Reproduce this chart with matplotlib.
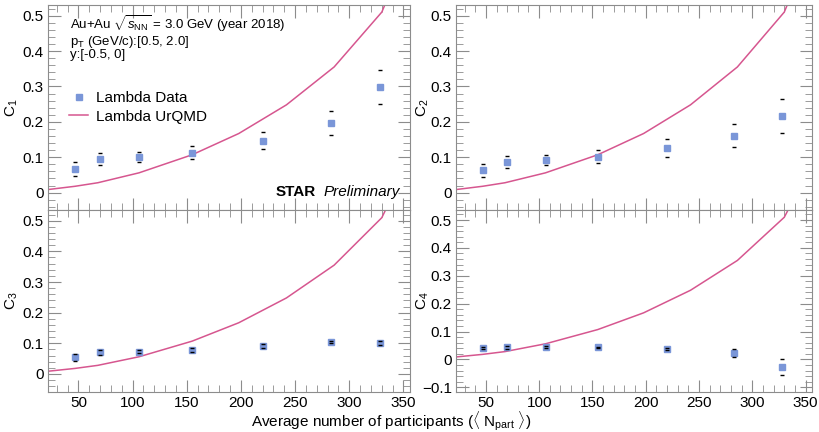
import matplotlib.pyplot as plt
from matplotlib.ticker import MultipleLocator, FuncFormatter

plt.rcParams['font.family'] = ['Liberation Sans', 'DejaVu Sans']
plt.rcParams['mathtext.fontset'] = 'custom'
plt.rcParams['mathtext.rm'] = 'Liberation Sans'
plt.rcParams['mathtext.it'] = 'Liberation Sans:italic'

npart = [47, 70, 106, 155, 220, 283, 328]

c1 = [0.067, 0.095, 0.101, 0.113, 0.147, 0.197, 0.299]
c1_err = [0.019, 0.016, 0.015, 0.018, 0.025, 0.033, 0.048]
c2 = [0.063, 0.087, 0.092, 0.102, 0.126, 0.161, 0.216]
c2_err = [0.019, 0.016, 0.015, 0.018, 0.025, 0.033, 0.048]
c3 = [0.054, 0.070, 0.073, 0.078, 0.091, 0.104, 0.100]
c3_err = [0.012, 0.007, 0.006, 0.006, 0.006, 0.004, 0.006]
c4 = [0.041, 0.043, 0.045, 0.043, 0.037, 0.024, -0.028]
c4_err = [0.005, 0.004, 0.004, 0.003, 0.005, 0.015, 0.028]

urqmd_npart = [20, 47, 68, 106, 155, 198, 242, 286, 330, 345]
urqmd_val = [0.008, 0.018, 0.028, 0.056, 0.107, 0.167, 0.248, 0.355, 0.51, 0.62]

data_color = '#7a96d8'
line_color = '#d6568f'
frame_color = '#8c8c8c'

fig = plt.figure(figsize=(8.19, 4.32), dpi=100)

W, H = 819, 432
def box(x0, x1, ytop, ybot):
    return [x0 / W, 1 - ybot / H, (x1 - x0) / W, (ybot - ytop) / H]

# rect, values, errors, y label, ylim, has x labels, ylabel x (pixels)
panels = [
    (box(48, 410, 5, 210), c1, c1_err, 'C$_1$', (-0.049, 0.53), False, 12),
    (box(456, 812, 5, 210), c2, c2_err, 'C$_2$', (-0.049, 0.53), False, 423),
    (box(48, 410, 210, 392), c3, c3_err, 'C$_3$', (-0.059, 0.535), True, 12),
    (box(456, 812, 210, 392), c4, c4_err, 'C$_4$', (-0.117, 0.536), True, 423),
]

def yfmt(v, pos):
    if abs(v) < 1e-9:
        return '0'
    return f'{v:.1f}'.replace('-', '\u2212')

axes = []
for rect, vals, errs, lab, ylim, bottom, lx in panels:
    ax = fig.add_axes(rect)
    ax.plot(urqmd_npart, urqmd_val, color=line_color, lw=1.1, zorder=2,
            label='Lambda UrQMD')
    ax.plot(npart, vals, 's', color=data_color, ms=5, mec=data_color, zorder=3,
            label='Lambda Data')
    up = [v + e for v, e in zip(vals, errs)]
    lo = [v - e for v, e in zip(vals, errs)]
    ax.plot(npart, up, '_', color='black', ms=3, mew=1, zorder=4)
    ax.plot(npart, lo, '_', color='black', ms=3, mew=1, zorder=4)
    ax.set_xlim(22, 356)
    ax.set_ylim(*ylim)
    ax.xaxis.set_major_locator(MultipleLocator(50))
    ax.xaxis.set_minor_locator(MultipleLocator(10))
    ax.yaxis.set_major_locator(MultipleLocator(0.1))
    ax.yaxis.set_minor_locator(MultipleLocator(0.02))
    ax.yaxis.set_major_formatter(FuncFormatter(yfmt))
    ax.tick_params(which='both', direction='in', top=True, right=True,
                   color=frame_color, labelsize=11, pad=3)
    ax.tick_params(which='major', length=9)
    ax.tick_params(which='minor', length=5)
    if not bottom:
        ax.tick_params(labelbottom=False)
    for s in ax.spines.values():
        s.set_color(frame_color)
    fig.text(lx / W, rect[1] + rect[3] / 2, lab, rotation=90, fontsize=11,
             ha='center', va='center')
    axes.append(ax)

ax1 = axes[0]
ax1.text(0.06, 0.91, 'Au+Au $\\sqrt{s_{\\rm NN}}$ = 3.0 GeV (year 2018)',
         transform=ax1.transAxes, fontsize=9.5, va='center')
ax1.text(0.06, 0.818, 'p$_{\\rm T}$ (GeV/c):[0.5, 2.0]',
         transform=ax1.transAxes, fontsize=9.5, va='center')
ax1.text(0.06, 0.757, 'y:[-0.5, 0]',
         transform=ax1.transAxes, fontsize=9.5, va='center')
handles, labels = ax1.get_legend_handles_labels()
ax1.legend(handles[::-1], labels[::-1], loc='upper left',
           bbox_to_anchor=(0.04, 0.61), frameon=False, fontsize=11,
           handlelength=1.3, handletextpad=0.5, labelspacing=0.3,
           borderaxespad=0)
ax1.text(0.74, 0.09, 'STAR', transform=ax1.transAxes, fontsize=11,
         fontweight='bold', ha='right', va='center')
ax1.text(0.76, 0.09, 'Preliminary', transform=ax1.transAxes, fontsize=11,
         fontstyle='italic', ha='left', va='center')

fig.text(0.478, 0.025, 'Average number of participants ($\\langle$ N$_{\\rm part}$ $\\rangle$)',
         ha='center', va='center', fontsize=11)

fig.savefig('out.png', dpi=100)
